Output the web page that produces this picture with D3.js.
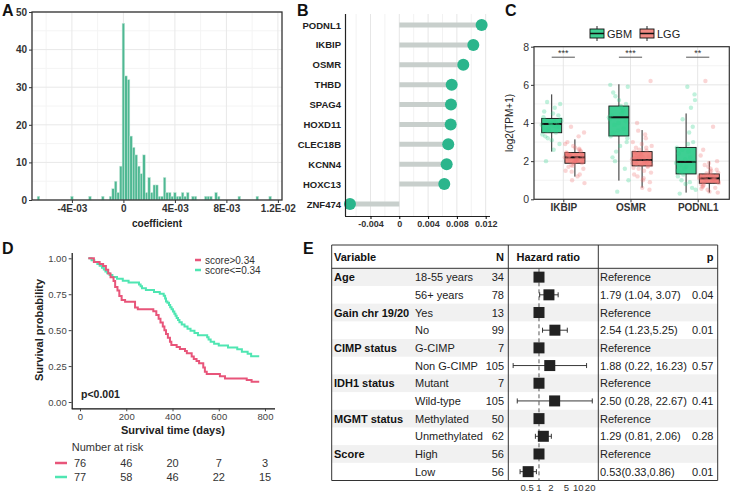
<!DOCTYPE html>
<html><head><meta charset="utf-8">
<script src="https://cdn.jsdelivr.net/npm/d3@7"></script>
<style>body{margin:0;background:#fff} text{font-family:"Liberation Sans",Arial,sans-serif}</style>
</head><body><svg id="c" width="731" height="494"></svg>
<script>
// ---------- Panel A: histogram of coefficients ----------
const histBinCenters = [-0.0066,-0.004,-0.0026,-0.0016,-0.001,-0.0008,-0.0006,-0.0004,-0.0002,0,0.0002,0.0004,0.0006,0.0008,0.001,0.0012,0.0014,0.0016,0.0018,0.002,0.0022,0.0024,0.0026,0.0028,0.003,0.0032,0.0034,0.0036,0.0038,0.004,0.0042,0.0044,0.0046,0.0048,0.005,0.0054,0.0056,0.0064,0.0066,0.0068,0.0072,0.0074,0.009,0.0104,0.0114];
const histCounts = [1,1,1,1,1,3,5,2,9,47,33,32,17,14,12,9,7,12,2,6,2,4,4,1,1,6,2,2,1,2,1,1,2,1,2,1,1,1,1,1,2,1,1,1,1];
const histBinWidth = 0.0002;
const histXTicks = [-0.004,0,0.004,0.008,0.012];
const histXTickLabels = ["-4E-03","0","4E-03","8E-03","1.2E-02"];
const histYTicks = [0,10,20,30,40,50];

// ---------- Panel B: lollipop ----------
const genesB = ["PODNL1","IKBIP","OSMR","THBD","SPAG4","HOXD11","CLEC18B","KCNN4","HOXC13","ZNF474"];
const coefB = [0.01144,0.01028,0.00889,0.00728,0.00718,0.00714,0.0068,0.00658,0.00625,-0.00685];
const bTicks = [-0.004,0,0.004,0.008,0.012];
const bTickLabels = ["-0.004","0","0.004","0.008","0.012"];

// ---------- Panel C: boxplots ----------
const genesC = ["IKBIP","OSMR","PODNL1"];
const groupsC = ["GBM","LGG"];
// [whiskerLow, Q1, median, Q3, whiskerHigh]
const boxGBM = [[2.5,3.49,3.95,4.24,5.5],[0.98,3.32,4.3,4.89,6.03],[0.35,1.33,1.96,2.72,4.5]];
const boxLGG = [[1.19,1.89,2.2,2.45,3.14],[0.61,1.75,2.06,2.5,3.63],[0.35,0.84,1.1,1.33,1.99]];
const ptsGBM_IKBIP = [3.9,4.1,3.6,3.8,4.0,4.3,3.5,3.7,4.2,4.5,3.3,3.9,4.0,3.4,4.8,5.1,2.9,3.1,4.6,3.8,3.6,4.1,2.6,2.0,4.4,3.95,3.75,4.05,3.2,5.0,3.85,4.15];
const ptsLGG_IKBIP = [2.2,2.1,2.3,1.9,2.0,2.4,2.6,1.8,2.15,2.25,1.7,2.5,2.8,1.5,2.05,2.35,1.95,2.7,3.0,1.3,1.0,0.85,2.12,2.28,2.18,1.88,2.45,3.3,3.8,1.6,2.02,2.22,2.55,1.75,2.9,1.2,2.08,2.32,1.98,2.42,2.65,1.45,3.5,2.0,2.3];
const ptsGBM_OSMR = [4.3,4.8,3.5,5.0,4.0,3.3,4.6,5.4,5.9,2.8,2.2,1.6,0.4,4.2,4.5,3.9,3.0,5.2,4.4,3.7,2.5,1.0,4.9,5.6,4.1,3.6,6.0,4.7,2.0,3.2];
const ptsLGG_OSMR = [2.1,1.9,2.3,2.0,1.8,2.5,2.7,1.6,1.4,2.2,2.05,1.75,2.4,3.0,3.4,1.2,0.9,0.6,2.15,1.95,2.6,2.8,1.5,1.85,2.25,2.35,1.65,3.2,3.6,6.2,1.0,2.45,1.7,2.1,1.9,2.0,4.0,0.5,2.9,1.3,2.55,2.2,1.8,1.1,2.7];
const ptsGBM_PODNL1 = [1.9,2.5,1.4,3.0,0.8,1.2,2.2,4.2,5.2,5.9,0.3,0.6,1.6,2.7,3.5,1.0,2.0,1.7,2.4,4.8,1.3,0.5,2.9,1.8,3.8,2.1,1.5,0.9,2.6,5.5];
const ptsLGG_PODNL1 = [1.1,1.0,1.2,0.9,1.3,0.8,1.05,1.15,1.4,1.6,0.7,0.6,0.5,1.25,0.95,1.8,2.0,0.4,1.1,1.0,1.35,0.85,1.5,0.75,1.2,1.7,2.3,3.8,6.2,0.35,1.45,0.65,1.08,0.98,1.18,1.28,0.88,1.55,1.9,0.55,1.12,1.02,0.92,1.22,2.6];
const sigLabels = ["***","***","**"];
const cYTicks = [0,2,4,6,8];

// ---------- Panel D: Kaplan-Meier ----------
const kmHighTime = [36,60,85,100,112,122,132,145,152,162,170,180,195,238,250,317,330,340,348,358,365,372,380,389,395,418,432,454,462,483,492,504,515,533,540,548,605,627,721,742,775];
const kmHighSurv = [1,0.974,0.961,0.947,0.92,0.895,0.868,0.842,0.80,0.776,0.737,0.71,0.697,0.658,0.645,0.632,0.605,0.58,0.553,0.526,0.50,0.474,0.447,0.42,0.396,0.382,0.368,0.355,0.34,0.316,0.30,0.285,0.27,0.24,0.21,0.194,0.18,0.164,0.153,0.141,0.141];
const kmLowTime = [36,50,62,75,85,95,103,110,118,128,140,160,185,210,255,262,268,285,320,345,362,368,372,378,385,390,396,402,408,413,418,424,430,440,452,465,478,495,510,550,556,565,580,600,640,680,700,725,740,775];
const kmLowSurv = [1.0,0.987,0.974,0.961,0.948,0.935,0.922,0.909,0.896,0.883,0.870,0.857,0.844,0.831,0.818,0.805,0.792,0.779,0.766,0.753,0.74,0.72,0.70,0.69,0.675,0.66,0.645,0.63,0.615,0.60,0.585,0.57,0.555,0.54,0.525,0.51,0.495,0.48,0.465,0.45,0.435,0.42,0.405,0.393,0.38,0.367,0.35,0.335,0.319,0.319];
const kmLabels = ["score>0.34","score<=0.34"];
const riskTimes = [0,200,400,600,800];
const riskHigh = [76,46,20,7,3];
const riskLow = [77,58,46,22,15];
const kmYTicks = [0,0.25,0.5,0.75,1];
const kmYTickLabels = ["0.00","0.25","0.50","0.75","1.00"];

// ---------- Panel E: forest plot ----------
const eVars = ["Age","","Gain chr 19/20","","CIMP status","","IDH1 status","","MGMT status","","Score",""];
const eLevels = ["18-55 years","56+ years","Yes","No","G-CIMP","Non G-CIMP","Mutant","Wild-type","Methylated","Unmethylated","High","Low"];
const eN = [34,78,13,99,7,105,7,105,50,62,56,56];
const eHR = [1,1.79,1,2.54,1,1.88,1,2.50,1,1.29,1,0.53];
const eLo = [null,1.04,null,1.23,null,0.22,null,0.28,null,0.81,null,0.33];
const eHi = [null,3.07,null,5.25,null,16.23,null,22.67,null,2.06,null,0.86];
const eText = ["Reference","1.79 (1.04, 3.07)","Reference","2.54 (1.23,5.25)","Reference","1.88 (0.22, 16.23)","Reference","2.50 (0.28, 22.67)","Reference","1.29 (0.81, 2.06)","Reference","0.53(0.33,0.86)"];
const eP = ["","0.04","","0.01","","0.57","","0.41","","0.28","","0.01"];
const eTicks = [0.5,1,2,5,10,20];

const svg = d3.select("#c");
svg.append("rect").attr("width",731).attr("height",494).attr("fill","#fff");

function panelLabel(t,x,y){ svg.append("text").attr("x",x).attr("y",y).text(t).attr("font-size",16).attr("font-weight","bold").attr("fill","#111"); }
panelLabel("A",2,16); panelLabel("B",297,16); panelLabel("C",505,16); panelLabel("D",2,254); panelLabel("E",303,254);

// ===== A =====
(function(){
  const g = svg.append("g");
  const x = d3.scaleLinear().domain([-0.0071,0.01232]).range([32,282]);
  const y = d3.scaleLinear().domain([0,50]).range([200,12]);
  const minorX = [-0.006,-0.002,0.002,0.006,0.010];
  g.selectAll(".mnx").data(minorX).join("line").attr("x1",d=>x(d)).attr("x2",d=>x(d)).attr("y1",12).attr("y2",200).attr("stroke","#f4f4f4");
  g.selectAll(".mny").data([5,15,25,35,45]).join("line").attr("x1",32).attr("x2",282).attr("y1",d=>y(d)).attr("y2",d=>y(d)).attr("stroke","#f4f4f4");
  g.selectAll(".mjx").data(histXTicks).join("line").attr("x1",d=>x(d)).attr("x2",d=>x(d)).attr("y1",12).attr("y2",200).attr("stroke","#e8e8e8");
  g.selectAll(".mjy").data(histYTicks).join("line").attr("x1",32).attr("x2",282).attr("y1",d=>y(d)).attr("y2",d=>y(d)).attr("stroke","#e8e8e8");
  g.selectAll(".bar").data(histBinCenters).join("rect")
    .attr("x",d=>x(d-histBinWidth/2)).attr("width",d=>x(d+histBinWidth/2)-x(d-histBinWidth/2))
    .attr("y",(d,i)=>y(histCounts[i])).attr("height",(d,i)=>y(0)-y(histCounts[i]))
    .attr("fill","#4fb893").attr("stroke","#c9e9dc").attr("stroke-width",0.5);
  g.append("rect").attr("x",32).attr("y",12).attr("width",250).attr("height",188).attr("fill","none").attr("stroke","#333").attr("stroke-width",1.3);
  const ax = d3.axisBottom(x).tickValues(histXTicks).tickFormat((d,i)=>histXTickLabels[i]).tickSize(3).tickPadding(2);
  const gx = g.append("g").attr("transform","translate(0,200)").call(ax);
  gx.select(".domain").remove();
  gx.selectAll("text").attr("font-size",10).attr("font-weight","bold").attr("fill","#333");
  gx.selectAll("line").attr("stroke","#333");
  const ay = d3.axisLeft(y).tickValues(histYTicks).tickSize(3).tickPadding(2);
  const gy = g.append("g").attr("transform","translate(32,0)").call(ay);
  gy.select(".domain").remove();
  gy.selectAll("text").attr("font-size",10).attr("font-weight","bold").attr("fill","#333");
  gy.selectAll("line").attr("stroke","#333");
  g.append("text").attr("x",157).attr("y",227).attr("text-anchor","middle").text("coefficient").attr("font-size",10).attr("font-weight","bold").attr("fill","#222");
})();

// ===== B =====
(function(){
  const g = svg.append("g");
  const x = d3.scaleLinear().domain([-0.00754,0.0126]).range([345,490]);
  const y = d3.scalePoint().domain(genesB).range([25,204]);
  const minor = [-0.006,-0.002,0.002,0.006,0.010];
  g.selectAll(".mn").data(minor).join("line").attr("x1",d=>x(d)).attr("x2",d=>x(d)).attr("y1",14).attr("y2",216).attr("stroke","#f2f2f2");
  g.selectAll(".mj").data(bTicks).join("line").attr("x1",d=>x(d)).attr("x2",d=>x(d)).attr("y1",14).attr("y2",216).attr("stroke","#e6e6e6");
  g.selectAll(".seg").data(genesB).join("line").attr("x1",x(0)).attr("x2",(d,i)=>x(coefB[i])).attr("y1",d=>y(d)).attr("y2",d=>y(d)).attr("stroke","#c8cfcc").attr("stroke-width",5);
  g.selectAll(".dot").data(genesB).join("circle").attr("cx",(d,i)=>x(coefB[i])).attr("cy",d=>y(d)).attr("r",6).attr("fill","#2bb58c");
  const ax = d3.axisBottom(x).tickValues(bTicks).tickFormat((d,i)=>bTickLabels[i]).tickSize(3).tickPadding(2);
  const gx = g.append("g").attr("transform","translate(0,216)").call(ax);
  gx.select(".domain").attr("d","M345,0.5H490").attr("stroke","#222").attr("stroke-width",1.2);
  gx.selectAll("text").attr("font-size",9).attr("font-weight","bold").attr("fill","#333");
  const ay = d3.axisLeft(y).tickSize(0).tickPadding(4);
  const gy = g.append("g").attr("transform","translate(345,0)").call(ay);
  gy.select(".domain").attr("d","M0.5,14V216").attr("stroke","#222").attr("stroke-width",1.2);
  gy.selectAll("text").attr("font-size",9.5).attr("font-weight","bold").attr("fill","#222");
})();

// ===== C =====
(function(){
  const g = svg.append("g");
  const L=534,R=729.3,T=46.7,B=199.3;
  const y = d3.scaleLinear().domain([0,8]).range([B,T]);
  const x = d3.scalePoint().domain(genesC).range([563.3,697.7]);
  const off = d3.scalePoint().domain(groupsC).range([-11.6,11.6]);
  const fills = {GBM:"#3ecf93",LGG:"#f28a84"};
  const ptCols = {GBM:"#2fd08c",LGG:"#f07474"};
  g.selectAll(".mny").data([1,3,5,7]).join("line").attr("x1",L).attr("x2",R).attr("y1",d=>y(d)).attr("y2",d=>y(d)).attr("stroke","#f3f3f3");
  g.selectAll(".mjy").data(cYTicks).join("line").attr("x1",L).attr("x2",R).attr("y1",d=>y(d)).attr("y2",d=>y(d)).attr("stroke","#e6e6e6");
  g.selectAll(".mjx").data(genesC).join("line").attr("x1",d=>x(d)).attr("x2",d=>x(d)).attr("y1",T).attr("y2",B).attr("stroke","#e6e6e6");
  const pts = {GBM:[ptsGBM_IKBIP,ptsGBM_OSMR,ptsGBM_PODNL1], LGG:[ptsLGG_IKBIP,ptsLGG_OSMR,ptsLGG_PODNL1]};
  const boxes = {GBM:boxGBM, LGG:boxLGG};
  groupsC.forEach(gr=>{
    genesC.forEach((gene,gi)=>{
      const cx = x(gene)+off(gr);
      const bx = boxes[gr][gi];
      const w = 20;
      g.append("line").attr("x1",cx).attr("x2",cx).attr("y1",y(bx[0])).attr("y2",y(bx[1])).attr("stroke","#111").attr("stroke-width",0.9);
      g.append("line").attr("x1",cx).attr("x2",cx).attr("y1",y(bx[3])).attr("y2",y(bx[4])).attr("stroke","#111").attr("stroke-width",0.9);
      g.append("rect").attr("x",cx-w/2).attr("width",w).attr("y",y(bx[3])).attr("height",y(bx[1])-y(bx[3])).attr("fill",fills[gr]).attr("stroke","#111").attr("stroke-width",0.9);
      g.append("line").attr("x1",cx-w/2).attr("x2",cx+w/2).attr("y1",y(bx[2])).attr("y2",y(bx[2])).attr("stroke","#111").attr("stroke-width",2);
    });
  });
  groupsC.forEach(gr=>{
    genesC.forEach((gene,gi)=>{
      const cx = x(gene)+off(gr);
      g.selectAll(null).data(pts[gr][gi]).join("circle")
        .attr("cx",(d,i)=>cx+(((i*0.6180339)%1)-0.5)*20)
        .attr("cy",d=>y(d)).attr("r",2.2).attr("fill",ptCols[gr]).attr("opacity",0.3);
    });
  });
  genesC.forEach((gene,gi)=>{
    const x1 = x(gene)+off("GBM"), x2 = x(gene)+off("LGG");
    g.append("line").attr("x1",x1).attr("x2",x2).attr("y1",y(7.45)).attr("y2",y(7.45)).attr("stroke","#555").attr("stroke-width",1);
    g.append("text").attr("x",(x1+x2)/2).attr("y",y(7.45)-1).attr("text-anchor","middle").text(sigLabels[gi]).attr("font-size",9).attr("fill","#333");
  });
  g.append("rect").attr("x",L).attr("y",T).attr("width",R-L).attr("height",B-T).attr("fill","none").attr("stroke","#333").attr("stroke-width",1.2);
  const ay = d3.axisLeft(y).tickValues(cYTicks).tickSize(3).tickPadding(2);
  const gy = g.append("g").attr("transform",`translate(${L},0)`).call(ay);
  gy.select(".domain").remove();
  gy.selectAll("text").attr("font-size",10.5).attr("fill","#333");
  gy.selectAll("line").attr("stroke","#333");
  const ax = d3.axisBottom(x).tickSize(3).tickPadding(2);
  const gx = g.append("g").attr("transform",`translate(0,${B})`).call(ax);
  gx.select(".domain").remove();
  gx.selectAll("text").attr("font-size",10).attr("font-weight","bold").attr("fill","#333");
  gx.selectAll("line").attr("stroke","#333");
  g.append("text").attr("transform","translate(513,123) rotate(-90)").attr("text-anchor","middle").text("log2(TPM+1)").attr("font-size",10).attr("fill","#222");
  // legend
  const lx = {GBM:590, LGG:640};
  groupsC.forEach(gr=>{
    const kx = lx[gr];
    g.append("line").attr("x1",kx+7).attr("x2",kx+7).attr("y1",26).attr("y2",41).attr("stroke","#111").attr("stroke-width",0.9);
    g.append("rect").attr("x",kx).attr("y",29).attr("width",14).attr("height",9).attr("fill",fills[gr]).attr("stroke","#111").attr("stroke-width",0.9);
    g.append("line").attr("x1",kx).attr("x2",kx+14).attr("y1",33.5).attr("y2",33.5).attr("stroke","#111").attr("stroke-width",1.5);
    g.append("text").attr("x",kx+17).attr("y",37.5).text(gr).attr("font-size",11).attr("fill","#222");
  });
})();

// ===== D =====
(function(){
  const g = svg.append("g");
  const x = d3.scaleLinear().domain([0,800]).range([80,265]);
  const y = d3.scaleLinear().domain([0,1]).range([402,258.3]);
  const line = d3.line().x(d=>x(d[0])).y(d=>y(d[1])).curve(d3.curveStepAfter);
  const hi = kmHighTime.map((t,i)=>[t,kmHighSurv[i]]);
  const lo = kmLowTime.map((t,i)=>[t,kmLowSurv[i]]);
  const colHi = "#e8557a", colLo = "#4fe6b2";
  g.append("path").attr("d",line(lo)).attr("fill","none").attr("stroke",colLo).attr("stroke-width",2);
  g.append("path").attr("d",line(hi)).attr("fill","none").attr("stroke",colHi).attr("stroke-width",2);
  const ax = d3.axisBottom(x).tickValues(riskTimes).tickSize(3).tickPadding(2);
  const gx = g.append("g").attr("transform","translate(0,408.3)").call(ax);
  gx.select(".domain").attr("d","M71.7,0.5H275").attr("stroke","#111").attr("stroke-width",1.2);
  gx.selectAll("text").attr("font-size",9.5).attr("fill","#444");
  gx.selectAll(".tick line").attr("stroke","#444");
  const ay = d3.axisLeft(y).tickValues(kmYTicks).tickFormat((d,i)=>kmYTickLabels[i]).tickSize(3).tickPadding(2);
  const gy = g.append("g").attr("transform","translate(71.7,0)").call(ay);
  gy.select(".domain").attr("d","M0.5,253V408.8").attr("stroke","#111").attr("stroke-width",1.2);
  gy.selectAll("text").attr("font-size",9.5).attr("fill","#444");
  gy.selectAll(".tick line").attr("stroke","#444");
  g.append("text").attr("transform","translate(43,330) rotate(-90)").attr("text-anchor","middle").text("Survival probability").attr("font-size",11).attr("font-weight","bold").attr("fill","#222");
  g.append("text").attr("x",173).attr("y",434).attr("text-anchor","middle").text("Survival time (days)").attr("font-size",11).attr("font-weight","bold").attr("fill","#222");
  g.append("text").attr("x",81).attr("y",398).text("p<0.001").attr("font-size",10.5).attr("font-weight","bold").attr("fill","#222");
  // legend
  [colHi,colLo].forEach((c,i)=>{
    const ly = 260 + i*10;
    g.append("line").attr("x1",195).attr("x2",201).attr("y1",ly).attr("y2",ly).attr("stroke",c).attr("stroke-width",2.5);
    g.append("text").attr("x",205).attr("y",ly+3.5).text(kmLabels[i]).attr("font-size",10).attr("fill","#333");
  });
  // risk table
  g.append("text").attr("x",71.7).attr("y",451).text("Number at risk").attr("font-size",11).attr("fill","#333");
  [[riskHigh,colHi,467],[riskLow,colLo,481]].forEach(([arr,c,yy])=>{
    g.append("line").attr("x1",55).attr("x2",67).attr("y1",yy-4).attr("y2",yy-4).attr("stroke",c).attr("stroke-width",2.5);
    g.selectAll(null).data(riskTimes).join("text").attr("x",d=>x(d)).attr("y",yy).attr("text-anchor","middle").text((d,i)=>arr[i]).attr("font-size",11).attr("fill","#333");
  });
})();

// ===== E =====
(function(){
  const g = svg.append("g");
  const L=331.7, R=717.7, T=245, H=268.3, Bt=480.5, C1=508.3, C2=598.3;
  const rows = d3.range(eLevels.length);
  const y = d3.scaleBand().domain(rows).range([H,Bt]);
  const x = d3.scaleLog().domain([0.183,28.2]).range([510,596]);
  g.selectAll(".shade").data(rows.filter(i=>i%2===0)).join("rect").attr("x",L).attr("width",R-L).attr("y",d=>y(d)).attr("height",y.bandwidth()).attr("fill","#f1f1f1");
  // lines
  const ln = (x1,y1,x2,y2,w)=>g.append("line").attr("x1",x1).attr("y1",y1).attr("x2",x2).attr("y2",y2).attr("stroke","#333").attr("stroke-width",w||1);
  ln(L,T,R,T); ln(L,H,R,H); ln(L,Bt,R,Bt); ln(L,T,L,Bt); ln(R,T,R,Bt); ln(C1,T,C1,Bt); ln(C2,T,C2,Bt);
  // header
  const hdr = (t,xx,anchor)=>g.append("text").attr("x",xx).attr("y",261).attr("text-anchor",anchor).text(t).attr("font-size",11).attr("font-weight","bold").attr("fill","#111");
  hdr("Variable",334,"start"); hdr("N",504,"end"); hdr("Hazard ratio",516.5,"start"); hdr("p",713.5,"end");
  const cy = i=>y(i)+y.bandwidth()/2;
  g.selectAll(".var").data(rows).join("text").attr("x",334).attr("y",i=>cy(i)+4).text(i=>eVars[i]).attr("font-size",11).attr("font-weight","bold").attr("fill","#111");
  g.selectAll(".lev").data(rows).join("text").attr("x",415).attr("y",i=>cy(i)+4).text(i=>eLevels[i]).attr("font-size",11).attr("fill","#222");
  g.selectAll(".n").data(rows).join("text").attr("x",504).attr("y",i=>cy(i)+4).attr("text-anchor","end").text(i=>eN[i]).attr("font-size",11).attr("fill","#222");
  g.selectAll(".est").data(rows).join("text").attr("x",600).attr("y",i=>cy(i)+4).text(i=>eText[i]).attr("font-size",11).attr("fill","#222");
  g.selectAll(".p").data(rows).join("text").attr("x",713.5).attr("y",i=>cy(i)+4).attr("text-anchor","end").text(i=>eP[i]).attr("font-size",11).attr("fill","#222");
  // reference dashed line
  g.append("line").attr("x1",x(1)).attr("x2",x(1)).attr("y1",H).attr("y2",Bt).attr("stroke","#444").attr("stroke-dasharray","4,3").attr("stroke-width",0.9);
  // CIs
  rows.forEach(i=>{
    if(eLo[i]!==null){
      const yy = cy(i);
      g.append("line").attr("x1",x(eLo[i])).attr("x2",x(eHi[i])).attr("y1",yy).attr("y2",yy).attr("stroke","#222").attr("stroke-width",0.9);
      [eLo[i],eHi[i]].forEach(v=>g.append("line").attr("x1",x(v)).attr("x2",x(v)).attr("y1",yy-2.5).attr("y2",yy+2.5).attr("stroke","#222").attr("stroke-width",0.9));
    }
  });
  g.selectAll(".sq").data(rows).join("rect").attr("x",i=>x(eHR[i])-5.5).attr("y",i=>cy(i)-5.5).attr("width",11).attr("height",11).attr("fill","#222");
  g.selectAll(".tk").data(eTicks).join("text").attr("x",d=>x(d)).attr("y",491).attr("text-anchor","middle").text(d=>d).attr("font-size",9.5).attr("fill","#333");
})();
</script></body></html>
